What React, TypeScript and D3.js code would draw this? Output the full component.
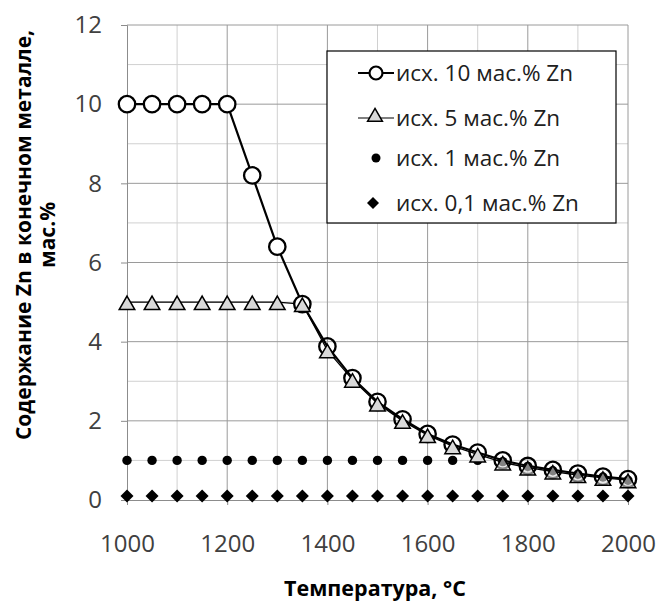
import React, { useRef, useEffect } from "react";
import * as d3 from "d3";

const temperatures = [1000, 1050, 1100, 1150, 1200, 1250, 1300, 1350, 1400, 1450, 1500, 1550, 1600, 1650, 1700, 1750, 1800, 1850, 1900, 1950, 2000];
const zn10 = [10, 10, 10, 10, 10, 8.2, 6.4, 4.95, 3.88, 3.08, 2.48, 2.04, 1.67, 1.4, 1.2, 1.0, 0.86, 0.76, 0.67, 0.59, 0.53];
const zn5 = [5, 5, 5, 5, 5, 5, 5, 4.95, 3.78, 3.04, 2.44, 2.0, 1.64, 1.36, 1.15, 0.95, 0.82, 0.72, 0.63, 0.56, 0.5];
const zn1 = [1, 1, 1, 1, 1, 1, 1, 1, 1, 1, 1, 1, 1, 1, 1, 0.97, 0.85, 0.74, 0.65, 0.58, 0.5];
const zn01 = [0.1, 0.1, 0.1, 0.1, 0.1, 0.1, 0.1, 0.1, 0.1, 0.1, 0.1, 0.1, 0.1, 0.1, 0.1, 0.1, 0.1, 0.1, 0.1, 0.1, 0.1];
const xTicks = [1000, 1200, 1400, 1600, 1800, 2000];
const yTicks = [0, 2, 4, 6, 8, 10, 12];
const legendLabels = ["исх. 10 мас.% Zn", "исх. 5 мас.% Zn", "исх. 1 мас.% Zn", "исх. 0,1 мас.% Zn"];

const FONT = "'Open Sans', 'Liberation Sans', sans-serif";

// square rotated 45deg, half diagonal h
const diamondPath = (h: number) => `M0,${-h}L${h},0L0,${h}L${-h},0Z`;

const App = () => {
  const svgRef = useRef<SVGSVGElement>(null);

  useEffect(() => {
    const svg = d3.select(svgRef.current);
    svg.selectAll("*").remove();

    const left = 127, right = 628, top = 25, bottom = 500;
    const x = d3.scaleLinear().domain([1000, 2000]).range([left, right]);
    const y = d3.scaleLinear().domain([0, 12]).range([bottom, top]);

    // grid: minor then major
    const grid = svg.append("g");
    grid.selectAll(".vminor")
      .data(d3.range(1100, 2000, 200))
      .join("line")
      .attr("x1", (d) => x(d)).attr("x2", (d) => x(d))
      .attr("y1", top).attr("y2", bottom)
      .attr("stroke", "#d0d0d0").attr("stroke-width", 1);
    grid.selectAll(".hminor")
      .data(d3.range(1, 12, 2))
      .join("line")
      .attr("x1", left).attr("x2", right)
      .attr("y1", (d) => y(d)).attr("y2", (d) => y(d))
      .attr("stroke", "#d0d0d0").attr("stroke-width", 1);
    grid.selectAll(".vmajor")
      .data(xTicks.slice(1))
      .join("line")
      .attr("x1", (d) => x(d)).attr("x2", (d) => x(d))
      .attr("y1", top).attr("y2", bottom)
      .attr("stroke", "#9a9a9a").attr("stroke-width", 1);
    grid.selectAll(".hmajor")
      .data(yTicks.slice(1))
      .join("line")
      .attr("x1", left).attr("x2", right)
      .attr("y1", (d) => y(d)).attr("y2", (d) => y(d))
      .attr("stroke", "#9a9a9a").attr("stroke-width", 1);

    // axes
    svg.append("g")
      .attr("transform", `translate(0, ${bottom})`)
      .call(d3.axisBottom(x).tickValues(xTicks).tickSize(5).tickPadding(30).tickFormat(d3.format("d")))
      .call((g) => g.select(".domain").attr("stroke", "#8c8c8c"))
      .call((g) => g.selectAll(".tick line").attr("stroke", "#8c8c8c"))
      .call((g) => g.selectAll("text").attr("font-family", FONT).attr("font-size", 24).attr("fill", "#404040"));

    svg.append("g")
      .attr("transform", `translate(${left}, 0)`)
      .call(d3.axisLeft(y).tickValues(yTicks).tickSize(6).tickPadding(19))
      .call((g) => g.select(".domain").attr("stroke", "#8c8c8c"))
      .call((g) => g.selectAll(".tick line").attr("stroke", "#8c8c8c"))
      .call((g) => g.selectAll("text").attr("font-family", FONT).attr("font-size", 24).attr("fill", "#404040"));

    // axis titles
    svg.append("text")
      .attr("x", 375).attr("y", 596)
      .attr("text-anchor", "middle")
      .attr("font-family", FONT).attr("font-size", 21.5).attr("font-weight", "bold")
      .text("Температура, °C");

    const yTitle = svg.append("text")
      .attr("transform", "translate(0, 235) rotate(-90)")
      .attr("text-anchor", "middle")
      .attr("font-family", FONT).attr("font-size", 21).attr("font-weight", "bold");
    yTitle.append("tspan").attr("x", 0).attr("y", 31).text("Содержание Zn в конечном металле,");
    yTitle.append("tspan").attr("x", 0).attr("y", 55).text("мас.%");

    const line = d3.line<number>().x((d, i) => x(temperatures[i])).y((d) => y(d));

    // 5% series
    svg.append("path").datum(zn5).attr("d", line)
      .attr("fill", "none").attr("stroke", "black").attr("stroke-width", 1.3);
    // 10% series line
    svg.append("path").datum(zn10).attr("d", line)
      .attr("fill", "none").attr("stroke", "black").attr("stroke-width", 2.2);

    const tri = d3.symbol().type(d3.symbolTriangle).size(105);

    // 0.1% diamonds
    svg.append("g").selectAll("path").data(zn01).join("path")
      .attr("d", diamondPath(6.5))
      .attr("transform", (d, i) => `translate(${x(temperatures[i])}, ${y(d)})`)
      .attr("fill", "black");

    // 1% dots
    svg.append("g").selectAll("circle").data(zn1).join("circle")
      .attr("cx", (d, i) => x(temperatures[i])).attr("cy", (d) => y(d))
      .attr("r", 4.7).attr("fill", "black");

    // 10% circles
    svg.append("g").selectAll("circle").data(zn10).join("circle")
      .attr("cx", (d, i) => x(temperatures[i])).attr("cy", (d) => y(d))
      .attr("r", 8.2).attr("fill", "white").attr("fill-opacity", (d, i) => (i > 7 ? 0 : 1))
      .attr("stroke", "black").attr("stroke-width", 2.3);

    // 5% triangles
    svg.append("g").selectAll("path").data(zn5).join("path")
      .attr("d", tri)
      .attr("transform", (d, i) => `translate(${x(temperatures[i])}, ${y(d) + 3})`)
      .attr("fill", "#d9d9d9").attr("fill-opacity", (d, i) => (i > 14 ? 0.6 : 1))
      .attr("stroke", "black").attr("stroke-width", 1.5);

    // legend
    const lg = svg.append("g").attr("transform", "translate(327, 51)");
    lg.append("rect").attr("width", 289).attr("height", 172)
      .attr("fill", "white").attr("stroke", "black").attr("stroke-width", 1.2);
    const rowY = [22, 67, 107, 152];
    const mx = 49;
    lg.selectAll("text.lab").data(legendLabels).join("text")
      .attr("x", 69).attr("y", (d, i) => rowY[i])
      .attr("dy", "0.35em")
      .attr("font-family", FONT).attr("font-size", 22.5).attr("fill", "#202020")
      .text((d) => d);
    lg.append("line").attr("x1", mx - 18).attr("x2", mx + 18).attr("y1", rowY[0]).attr("y2", rowY[0])
      .attr("stroke", "black").attr("stroke-width", 2.2);
    lg.append("circle").attr("cx", mx).attr("cy", rowY[0]).attr("r", 6.5)
      .attr("fill", "white").attr("stroke", "black").attr("stroke-width", 2.2);
    lg.append("line").attr("x1", mx - 18).attr("x2", mx + 18).attr("y1", rowY[1]).attr("y2", rowY[1])
      .attr("stroke", "black").attr("stroke-width", 1.2);
    lg.append("path").attr("d", d3.symbol().type(d3.symbolTriangle).size(95))
      .attr("transform", `translate(${mx - 1}, ${rowY[1] - 1})`)
      .attr("fill", "#d9d9d9").attr("stroke", "black").attr("stroke-width", 1.5);
    lg.append("circle").attr("cx", mx).attr("cy", rowY[2]).attr("r", 4.5).attr("fill", "black");
    lg.append("path").attr("d", diamondPath(6))
      .attr("transform", `translate(${mx - 3}, ${rowY[3]})`).attr("fill", "black");
  }, []);

  return (
    <svg ref={svgRef} width={658} height={601}
      style={{ position: "absolute", left: 0, top: 0, background: "white" }} />
  );
};

export default App;
